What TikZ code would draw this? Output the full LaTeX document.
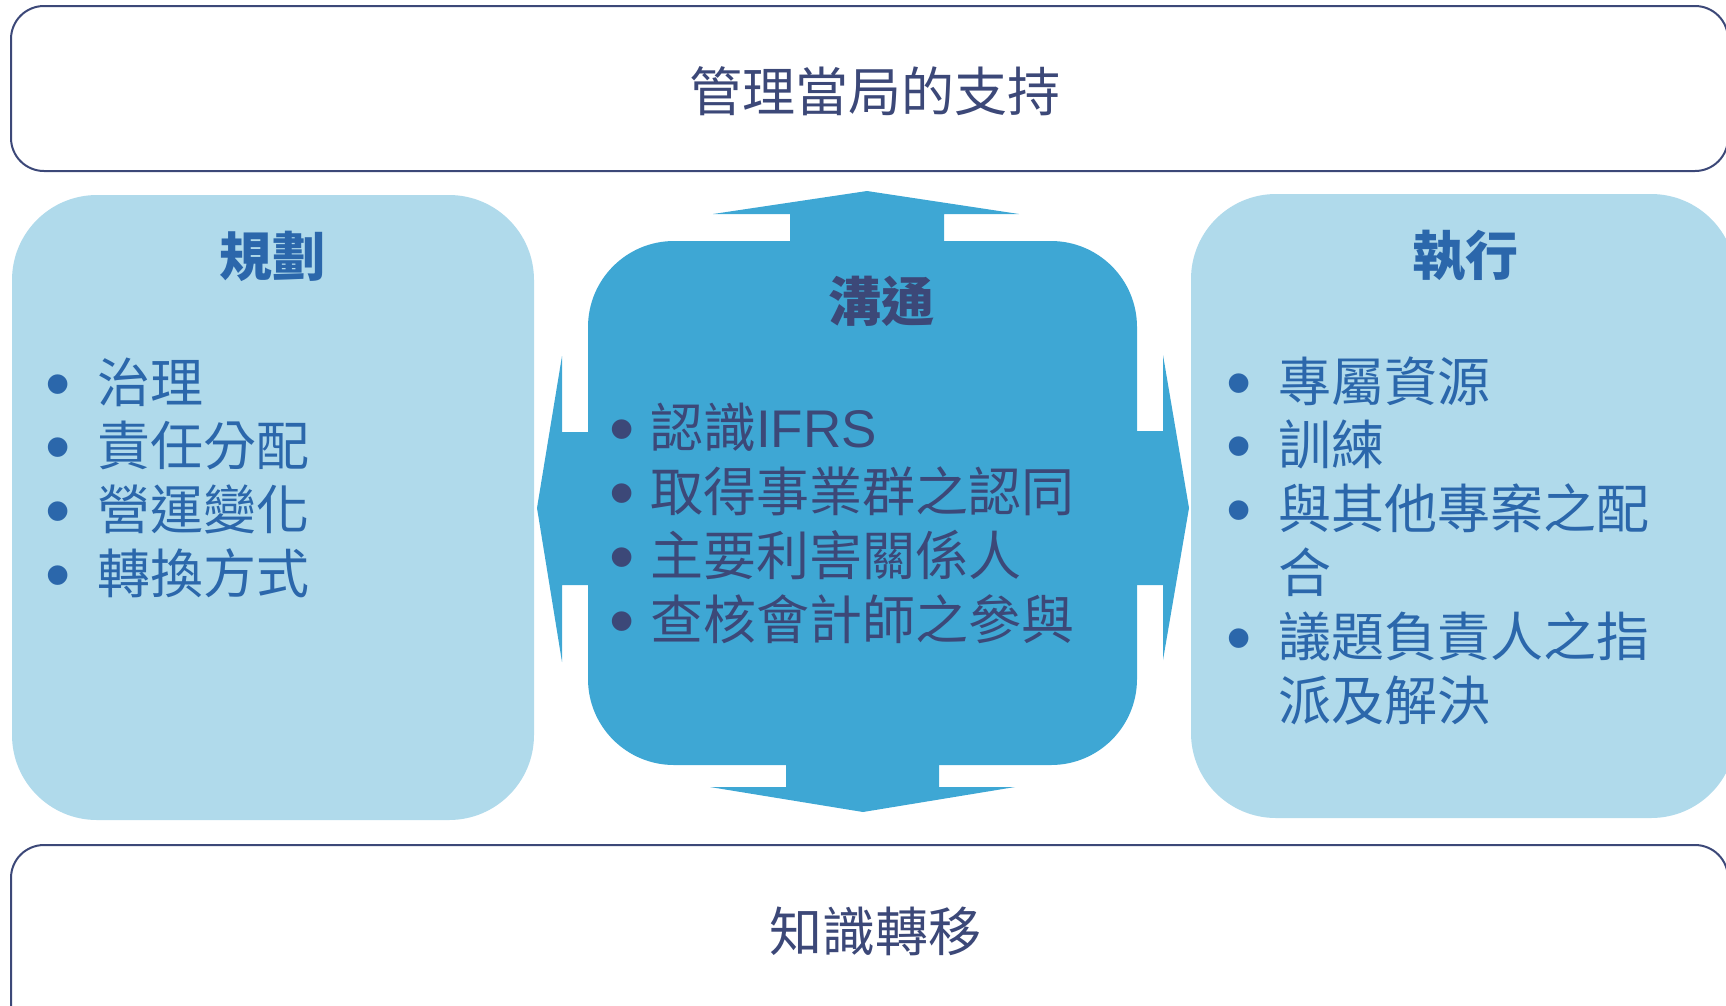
\documentclass[tikz,border=0pt]{standalone}
\usepackage{graphicx}
\usepackage{fontspec}
\setmainfont{Noto Sans CJK TC}
\newfontfamily\latinf{Liberation Sans}
\definecolor{navy}{HTML}{3C4878}
\definecolor{lightb}{HTML}{B0DAEB}
\definecolor{midb}{HTML}{3EA7D4}
\definecolor{sideink}{HTML}{2B67AB}
% bullet + gap + item text in one line
\newcommand{\bulitem}[2]{\makebox[#1][l]{\raisebox{-6pt}{\scalebox{1.36}{\latinf •}}}#2}
\tikzset{
  framebox/.style={draw=navy, line width=2pt, rounded corners=33pt, fill=white},
  sidebox/.style={fill=lightb, rounded corners=85pt},
  hubfill/.style={fill=midb, draw=none},
  bigtext/.style={font=\fontsize{53}{64}\selectfont, inner sep=0pt},
  titletext/.style={font=\fontsize{53}{64}\selectfont\bfseries, inner sep=0pt},
  itemtext/.style={font=\fontsize{53}{64}\selectfont, inner sep=0pt, anchor=base west},
}
\begin{document}
\begin{tikzpicture}[x=1pt,y=-1pt]
\useasboundingbox (0,0) rectangle (1726,1005);
\clip (0,0) rectangle (1726,1005);
% top and bottom frames
\draw[framebox] (11,6) rectangle (1728,171);
\draw[framebox] (11,845) rectangle (1728,1040);
\node[bigtext, text=navy] (mgmt) at (875,91) {管理當局的支持};
\node[bigtext, text=navy] (know) at (875,931) {知識轉移};
% side boxes
\fill[sidebox] (12,195) rectangle (534,820);
\fill[sidebox] (1191,194) rectangle (1736,818);
% hub: rounded square plus four arrows
\fill[hubfill, rounded corners=86pt] (588,241) rectangle (1137,765);
\fill[hubfill] (790,245) -- (790,214) -- (713,214) -- (867,191) -- (1019,214) -- (944,214) -- (944,245) -- cycle;
\fill[hubfill] (786,760) -- (786,787) -- (710,787) -- (863,812) -- (1015,787) -- (939,787) -- (939,760) -- cycle;
\fill[hubfill] (592,432) -- (562,432) -- (562,356) -- (537,508) -- (562,662) -- (562,585) -- (592,585) -- cycle;
\fill[hubfill] (1133,431) -- (1163,431) -- (1163,355) -- (1189,508) -- (1163,660) -- (1163,585) -- (1133,585) -- cycle;
% titles
\node[titletext, text=sideink] (plan) at (272,256) {規劃};
\node[titletext, text=navy] (comm) at (881,301) {溝通};
\node[titletext, text=sideink] (exec) at (1465,256) {執行};
% left list
\foreach \t [count=\i from 0] in {治理,責任分配,營運變化,轉換方式}{
  \node[itemtext, text=sideink] (lt\i) at (45.4,402+63.7*\i) {\bulitem{51.6pt}{\t}};
}
% center list
\node[itemtext, text=navy] (ct0) at (609.4,447) {\bulitem{40.6pt}{認識{\latinf IFRS}}};
\node[itemtext, text=navy] (ct1) at (609.4,511) {\bulitem{40.6pt}{取得事業群之認同}};
\node[itemtext, text=navy] (ct2) at (609.4,575) {\bulitem{40.6pt}{主要利害關係人}};
\node[itemtext, text=navy] (ct3) at (609.4,639) {\bulitem{40.6pt}{查核會計師之參與}};
% right list
\node[itemtext, text=sideink] (rt0) at (1226.4,401) {\bulitem{51.6pt}{專屬資源}};
\node[itemtext, text=sideink] (rt1) at (1226.4,464) {\bulitem{51.6pt}{訓練}};
\node[itemtext, text=sideink] (rt2) at (1226.4,528) {\bulitem{51.6pt}{與其他專案之配}};
\node[itemtext, text=sideink] (rt2b) at (1278,592) {合};
\node[itemtext, text=sideink] (rt3) at (1226.4,656) {\bulitem{51.6pt}{議題負責人之指}};
\node[itemtext, text=sideink] (rt3b) at (1278,720) {派及解決};
\end{tikzpicture}
\end{document}
